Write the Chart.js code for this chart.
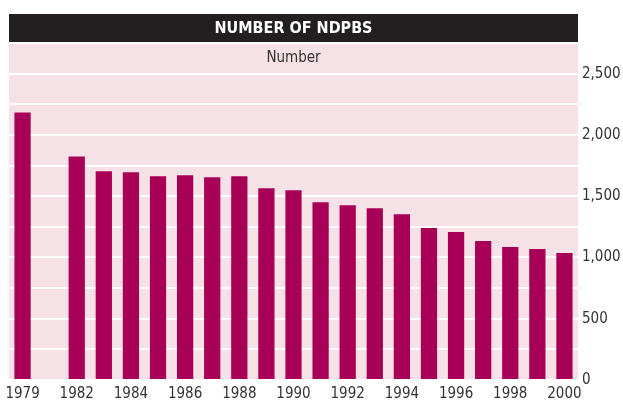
<!DOCTYPE html>
<html lang="en">
<head>
<script src="https://cdn.jsdelivr.net/npm/chart.js@4/dist/chart.umd.min.js"></script>
<style>
  html, body { margin: 0; padding: 0; background: #fff; }
  #wrap { width: 623px; height: 403px; }
</style>
</head>
<body>
<div id="wrap"><canvas id="ndpb-chart" width="623" height="403"></canvas></div>

<script>
    // 1980 and 1981 have no figure, the chart leaves a gap there
    const years = ["1979", "", "1982", "1983", "1984", "1985", "1986", "1987", "1988", "1989", "1990",
                   "1991", "1992", "1993", "1994", "1995", "1996", "1997", "1998", "1999", "2000"];
    const ndpbCount = [2183, null, 1823, 1703, 1695, 1663, 1671, 1655, 1663, 1565, 1548,
                       1451, 1427, 1402, 1353, 1240, 1207, 1134, 1085, 1069, 1036];
    const yTicks = [0, 500, 1000, 1500, 2000, 2500];

    const chartTitle = "NUMBER OF NDPBS";
    const unitLabel = "Number";
    const font = "'DejaVu Sans Condensed', 'Liberation Sans Narrow', sans-serif";

    const panelPlugin = {
        id: "panel",
        beforeDraw(chart) {
            const ctx = chart.ctx, a = chart.chartArea;
            ctx.save();
            ctx.fillStyle = "#f5e1e6";
            ctx.fillRect(a.left, a.top, a.right - a.left, a.bottom - a.top);
            ctx.fillStyle = "#231f20";
            ctx.fillRect(a.left, 14, a.right - a.left, a.top - 14);
            ctx.restore();
        },
        afterDraw(chart) {
            const ctx = chart.ctx, a = chart.chartArea;
            const mid = (a.left + a.right) / 2;
            ctx.save();
            ctx.textAlign = "center";
            ctx.textBaseline = "middle";
            ctx.fillStyle = "#ffffff";
            ctx.font = "bold 16px " + font;
            ctx.fillText(chartTitle, mid, 29);
            ctx.fillStyle = "#333333";
            ctx.font = "15px " + font;
            ctx.fillText(unitLabel, mid, 58);
            ctx.restore();
        }
    };

    new Chart("ndpb-chart", {
        type: "bar",
        data: {
            labels: years,
            datasets: [{
                label: "NDPBs",
                data: ndpbCount,
                backgroundColor: "#a80056",
                borderWidth: 0,
                categoryPercentage: 1.0,
                barPercentage: 0.6
            }]
        },
        options: {
            responsive: false,
            animation: false,
            layout: { padding: { top: 43, left: 9, right: 0, bottom: 0 } },
            plugins: {
                legend: { display: false },
                tooltip: { enabled: false }
            },
            scales: {
                x: {
                    grid: { display: false, drawTicks: false },
                    border: { display: false },
                    ticks: {
                        autoSkip: false,
                        maxRotation: 0,
                        padding: 5,
                        color: "#333333",
                        font: { family: font, size: 15 },
                        callback: function(v, i) {
                            const y = years[i];
                            if (!y) return "";
                            return (i === 0 || +y % 2 === 0) ? y : "";
                        }
                    },
                    afterFit: function(s) { s.height = 23; }
                },
                y: {
                    position: "right",
                    min: 0,
                    max: 2750,
                    grid: { color: "#ffffff", lineWidth: 2, drawTicks: false },
                    border: { display: false },
                    ticks: {
                        stepSize: 250,
                        padding: 4,
                        color: "#333333",
                        font: { family: font, size: 15 },
                        callback: function(v) {
                            return yTicks.includes(v) ? v.toLocaleString("en-US") : "";
                        }
                    },
                    afterFit: function(s) { s.width = 45; }
                }
            }
        },
        plugins: [panelPlugin]
    });
</script>
</body>
</html>
